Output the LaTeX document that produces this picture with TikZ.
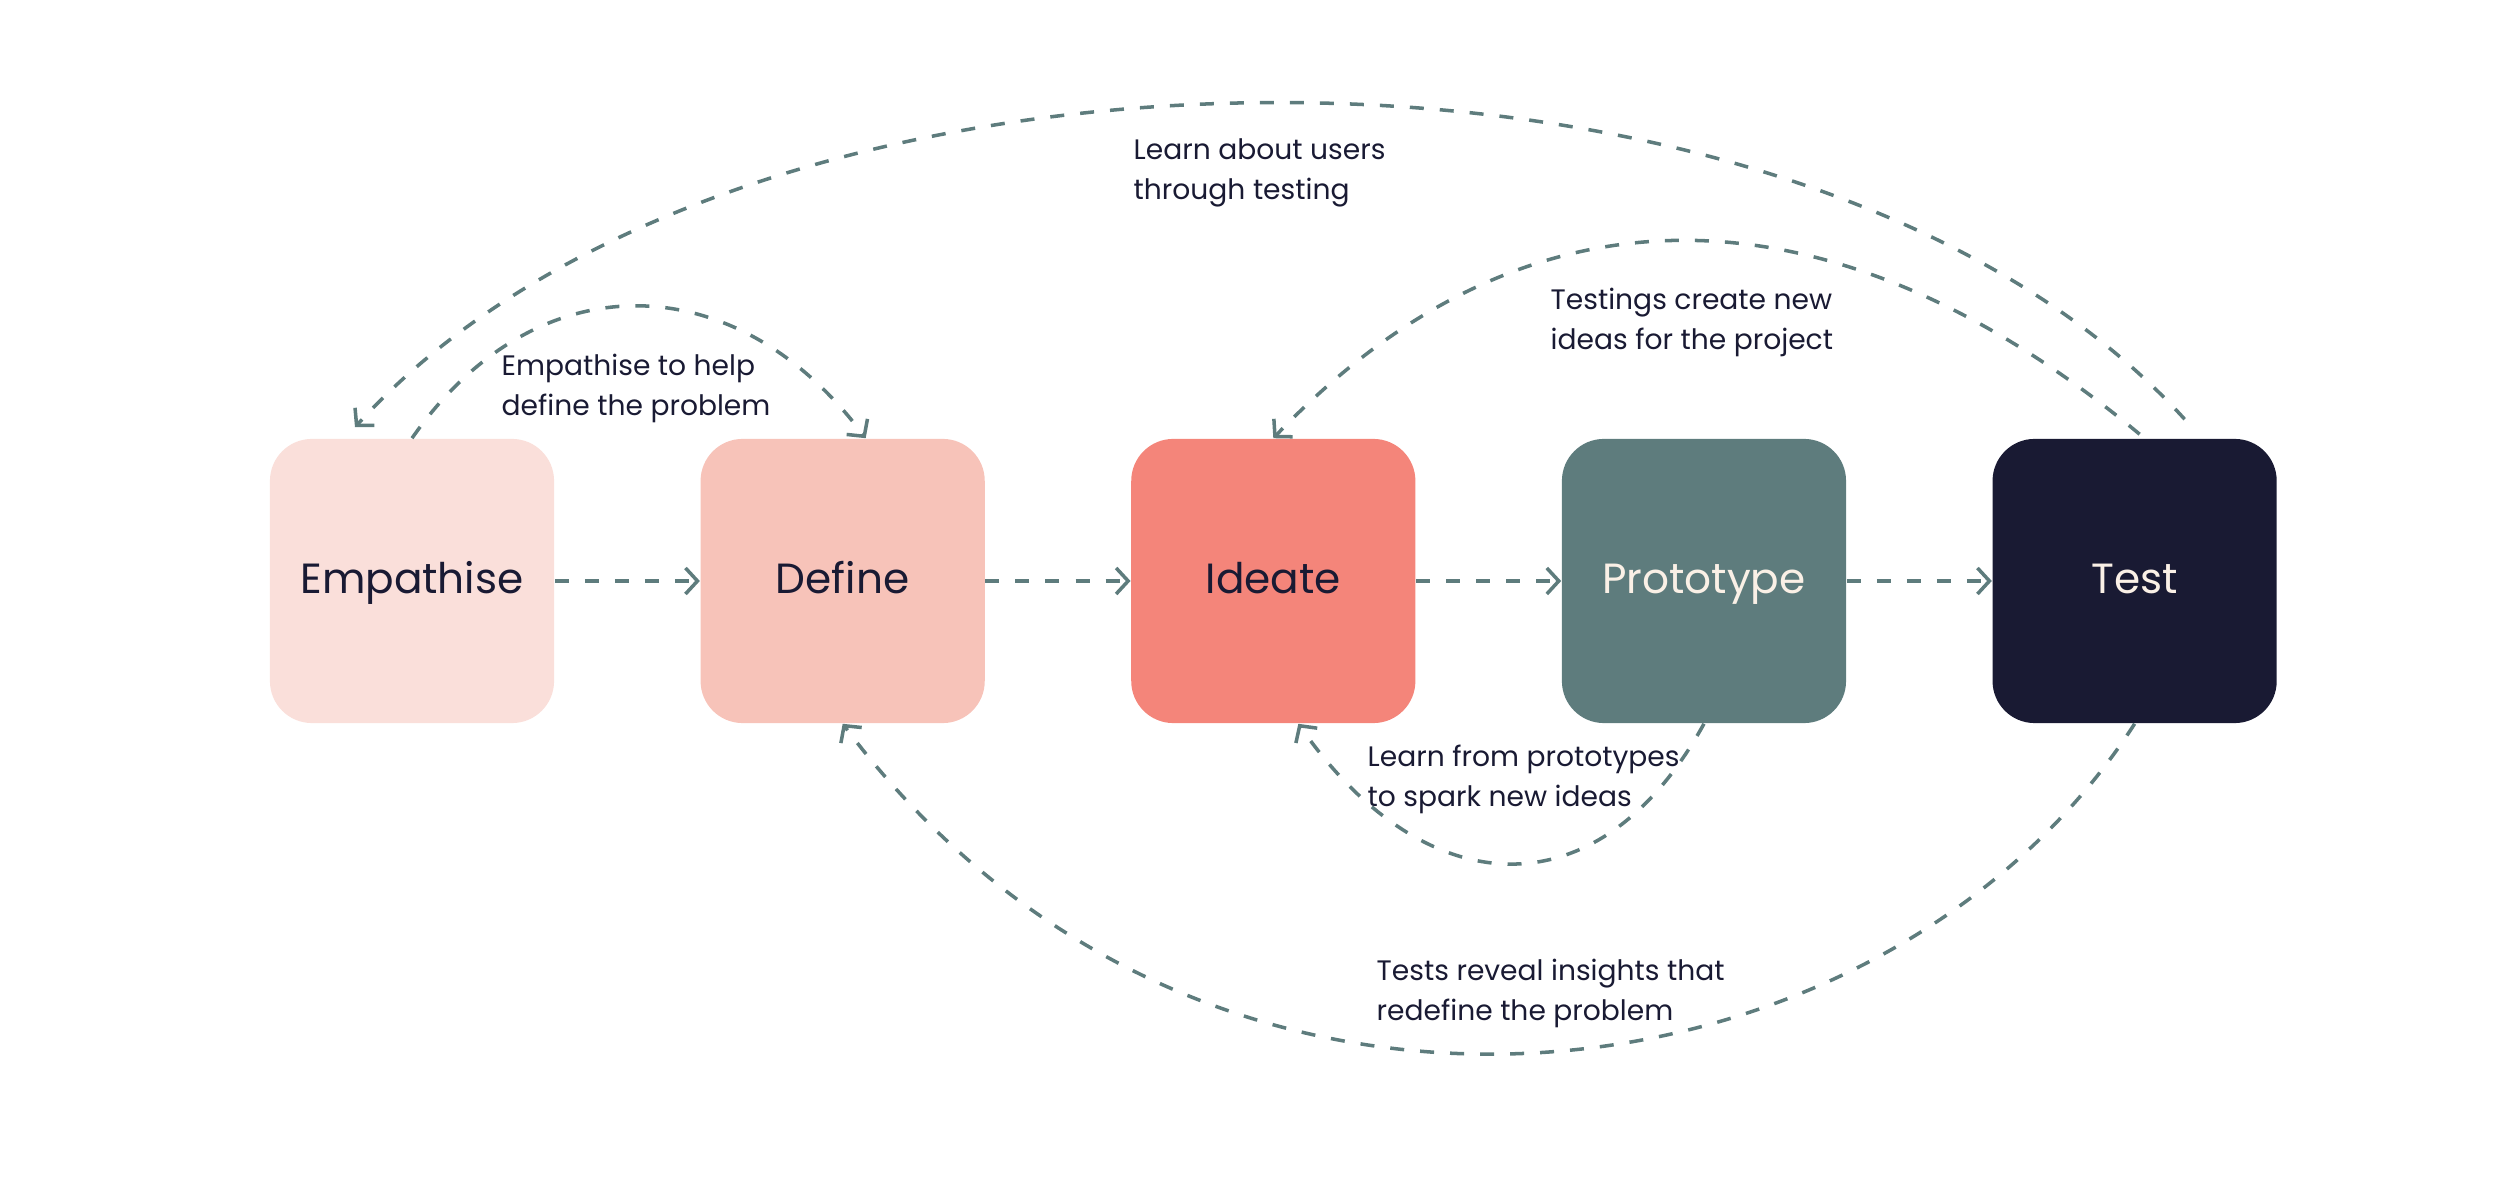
\documentclass[tikz,border=0pt]{standalone}
\usepackage{fontspec}
\setmainfont{Poppins}
\usetikzlibrary{positioning,arrows.meta}

\definecolor{empfill}{HTML}{FADFDA}
\definecolor{deffill}{HTML}{F7C3B9}
\definecolor{idefill}{HTML}{F4857A}
\definecolor{profill}{HTML}{5E7C7D}
\definecolor{tstfill}{HTML}{191A33}
\definecolor{ink}{HTML}{191A33}
\definecolor{cream}{HTML}{FAF0E6}
\definecolor{flowcol}{HTML}{5E7C7D}

\begin{document}
\begin{tikzpicture}[x=0.01cm, y=-0.01cm, >={Straight Barb[length=0.12cm,width=0.26cm]},
    stage/.style={rounded corners=0.42cm, minimum width=2.84cm, minimum height=2.84cm,
      text height=0.72em, text depth=0pt, font=\fontsize{12}{14}\selectfont, text=ink},
    flow/.style={->, draw=flowcol, line width=1pt, dash pattern=on 0.14cm off 0.16cm},
    note/.style={anchor=base west, align=left, inner sep=0pt,
      font=\fontsize{8}{11.5}\selectfont, text=ink}]
  \useasboundingbox (0,0) rectangle (2500,1201);

  % the five stages
  \node[stage, fill=empfill] (emp) at (412,581) {Empathise};
  \node[stage, fill=deffill, right=1.45cm of emp] (def) {Define};
  \node[stage, fill=idefill, right=1.45cm of def] (ide) {Ideate};
  \node[stage, fill=profill, text=cream, right=1.45cm of ide] (pro) {Prototype};
  \node[stage, fill=tstfill, text=cream, right=1.45cm of pro] (tst) {Test};

  \foreach \a/\b in {emp/def, def/ide, ide/pro, pro/tst}
    \draw[flow] (\a.east) -- (\b.west);

  % loops back
  \draw[flow] (emp.north) .. controls +(124,-178) and +(-130,-174) .. ([xshift=0.23cm]def.north);
  \draw[flow] ([shift={(50,-19)}]tst.north) .. controls +(-387,-427) and +(387,-427) .. ([shift={(-57,-11)}]emp.north);
  \draw[flow] ([shift={(5,-4)}]tst.north) .. controls +(-295,-245) and +(264,-276) .. (ide.north);
  \draw[flow] (pro.south) .. controls +(-106,192) and +(126,181) .. ([xshift=0.25cm]ide.south);
  \draw[flow] (tst.south) .. controls +(-251,390) and +(365,487) .. (def.south);

  \node[note] (lbla) at (501,416) {Empathise to help\\define the problem};
  \node[note] (lblb) at (1133,200) {Learn about users\\through testing};
  \node[note] (lblc) at (1550,350) {Testings create new\\ideas for the project};
  \node[note] (lbld) at (1367,807) {Learn from prototypes\\to spark new ideas};
  \node[note] (lble) at (1376,1021) {Tests reveal insights that\\redefine the problem};
\end{tikzpicture}
\end{document}
